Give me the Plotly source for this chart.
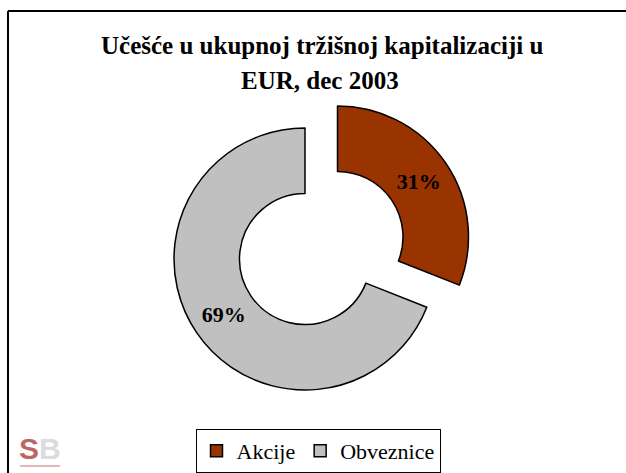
import plotly.graph_objects as go

# ---- data ----
categories = ["Akcije", "Obveznice"]
values = [31, 69]
colors = ["#993300", "#C0C0C0"]
pulls = [0.30, 0.0]
title_lines = ["Učešće u ukupnoj tržišnoj kapitalizaciji u", "EUR, dec 2003"]

W, H = 626, 473

def px(x):
    return x / W

def py(y):
    return 1 - y / H

# pie geometry (pixels): center (305, 259), outer radius 131, pull 0.30
cx, cy, R = 305, 259, 131
half = R * (1 + max(pulls))

fig = go.Figure()
fig.add_trace(go.Pie(
    labels=categories,
    values=values,
    marker=dict(colors=colors, line=dict(color="black", width=1.5)),
    pull=pulls,
    hole=0.5,
    sort=False,
    direction="clockwise",
    rotation=0,
    texttemplate="<b>%{percent:.0%}</b>",
    textposition="inside",
    insidetextorientation="horizontal",
    textfont=dict(family="Liberation Serif", size=22, color="black"),
    domain=dict(x=[px(cx - half), px(cx + half)], y=[py(cy + half), py(cy - half)]),
    showlegend=True,
))

annotations = [
    dict(text="<b>" + title_lines[0] + "</b>", x=px(322), y=py(46), xref="paper", yref="paper",
         xanchor="center", yanchor="middle", showarrow=False,
         font=dict(family="Liberation Serif", size=25, color="black")),
    dict(text="<b>" + title_lines[1] + "</b>", x=px(320), y=py(81), xref="paper", yref="paper",
         xanchor="center", yanchor="middle", showarrow=False,
         font=dict(family="Liberation Serif", size=25, color="black")),
    # logo approximation
    dict(text="<b>S</b>", x=px(29), y=py(448), xref="paper", yref="paper",
         xanchor="center", yanchor="middle", showarrow=False,
         font=dict(family="Liberation Sans", size=30, color="rgba(170,50,50,0.75)")),
    dict(text="<b>B</b>", x=px(50), y=py(448), xref="paper", yref="paper",
         xanchor="center", yanchor="middle", showarrow=False,
         font=dict(family="Liberation Sans", size=30, color="#dcdcdc")),
]

fig.update_layout(
    width=W, height=H,
    margin=dict(l=0, r=0, t=0, b=0, autoexpand=False),
    paper_bgcolor="white",
    plot_bgcolor="white",
    annotations=annotations,
    legend=dict(
        orientation="h",
        x=px(318), xanchor="center",
        y=py(429), yanchor="top",
        bordercolor="black", borderwidth=1,
        font=dict(family="Liberation Serif", size=22, color="black"),
        bgcolor="white",
        traceorder="normal",
    ),
    shapes=[
        # outer frame: only top and left edges are inside the visible page
        dict(type="line", xref="paper", yref="paper",
             x0=px(8), y0=py(11), x1=px(700), y1=py(11),
             line=dict(color="black", width=2), layer="below"),
        dict(type="line", xref="paper", yref="paper",
             x0=px(8), y0=py(11), x1=px(8), y1=py(520),
             line=dict(color="black", width=2), layer="below"),
        dict(type="line", xref="paper", yref="paper",
             x0=px(20), y0=py(466), x1=px(60), y1=py(466),
             line=dict(color="rgba(170,50,50,0.35)", width=2)),
    ],
)

fig.write_html(
    "out.html",
    config={"displayModeBar": False},
    post_script="document.body.style.margin='0';document.body.style.overflow='hidden';",
)
